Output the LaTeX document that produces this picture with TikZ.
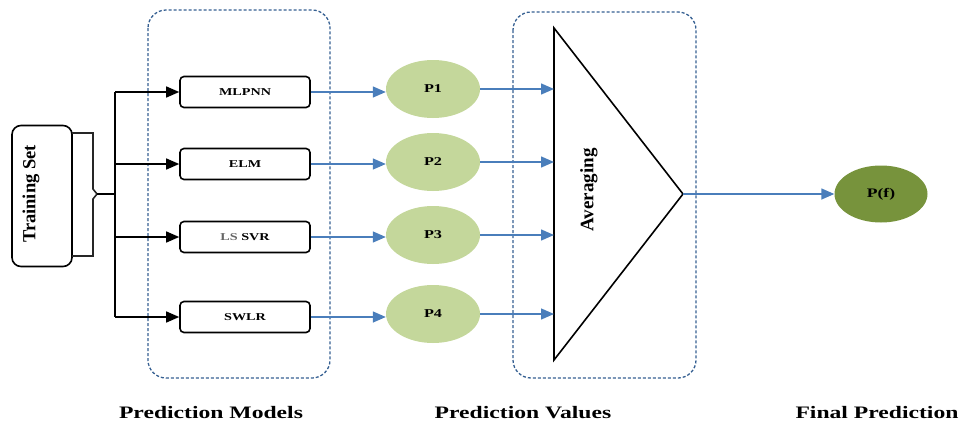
\documentclass[tikz,border=0pt]{standalone}
\usepackage{fontspec}
\setmainfont{Liberation Serif}
\newfontfamily\widefont[FakeStretch=1.35]{Liberation Serif}
\usetikzlibrary{arrows.meta,shapes.geometric}
\definecolor{lineblue}{RGB}{74,126,187}
\definecolor{boxblue}{RGB}{54,96,146}
\definecolor{palegreen}{RGB}{196,215,155}
\definecolor{olive}{RGB}{119,147,60}
\tikzset{
  model/.style={draw, line width=1.6pt, rounded corners=4pt, minimum width=130pt,
    minimum height=31pt, inner sep=0pt, font=\widefont\bfseries\fontsize{10.5}{12}\selectfont},
  pval/.style={ellipse, fill=palegreen, minimum width=94pt, minimum height=58pt,
    inner sep=0pt, font=\widefont\bfseries\fontsize{12}{14}\selectfont},
  group/.style={draw=boxblue, dash pattern=on 3pt off 2pt, line width=1.3pt, rounded corners=18pt},
  blackarrow/.style={line width=1.4pt, -{Triangle[length=13pt,width=11pt]}},
  bluearrow/.style={draw=lineblue, line width=1.4pt, -{Triangle[length=13pt,width=11pt]}, color=lineblue},
  caption/.style={font=\widefont\bfseries\fontsize{17.5}{20}\selectfont}
}
\begin{document}
\begin{tikzpicture}[x=1pt,y=-1pt]
\useasboundingbox (0,0) rectangle (962,426);

% dashed group frames
\draw[group] (148,10) rectangle (330,378);
\draw[group] (513,12) rectangle (696,378);

% training set
\node[draw, line width=1.6pt, rounded corners=9pt, minimum width=60pt, minimum height=141pt,
  inner sep=0pt] (train) at (42,196) {};
\node[rotate=90, font=\bfseries\fontsize{18.5}{20}\selectfont] (traintxt) at (31,194) {Training Set};

% brace from the training set to the fan-out bus
\draw[line width=1.6pt, black!85] (72,133) -- (93,133) -- (93,189) -- (97,194) -- (93,199) -- (93,256) -- (72,256);
\coordinate (bt) at (115,92);
\coordinate (bb) at (115,317);
\coordinate (bm) at (115,194);
\draw[line width=1.4pt] (97,194) -- (bm);
\draw[line width=1.4pt] (bt) -- (bb);

% prediction models
\node[model] (m1) at (245,92) {MLPNN};
\node[model] (m2) at (245,164) {ELM};
\node[model] (m3) at (245,237) {{\color{black!60}LS} SVR};
\node[model] (m4) at (245,317) {SWLR};

\foreach \m in {m1,m2,m3,m4}
  \draw[blackarrow] (bt |- \m.west) -- (\m.west);

% prediction values
\node[pval] (p1) at (433,89) {P1};
\node[pval] (p2) at (433,162) {P2};
\node[pval] (p3) at (433,235) {P3};
\node[pval] (p4) at (433,314) {P4};

\draw[bluearrow] (m1.east) -- (p1.west |- m1.east);
\draw[bluearrow] (m2.east) -- (p2.west |- m2.east);
\draw[bluearrow] (m3.east) -- (p3.west |- m3.east);
\draw[bluearrow] (m4.east) -- (p4.west |- m4.east);

% averaging triangle
\coordinate (tt) at (554,28);
\coordinate (tb) at (554,360);
\coordinate (tip) at (683,194);
\draw[line width=1.6pt, line join=miter] (tt) -- (tip) -- (tb) -- cycle;
\node[rotate=90, font=\bfseries\fontsize{19}{20}\selectfont] (avg) at (589,190) {Averaging};

\draw[bluearrow] (p1.east) -- (tt |- p1.east);
\draw[bluearrow] (p2.east) -- (tt |- p2.east);
\draw[bluearrow] (p3.east) -- (tt |- p3.east);
\draw[bluearrow] (p4.east) -- (tt |- p4.east);

% final prediction
\node[ellipse, fill=olive, minimum width=93pt, minimum height=57pt, inner sep=0pt,
  font=\widefont\bfseries\fontsize{13}{15}\selectfont] (pf) at (881,194) {P(f)};
\draw[bluearrow] (tip) -- (pf.west);

% captions
\node[caption] (c1) at (211,413) {Prediction Models};
\node[caption] (c2) at (523,413) {Prediction Values};
\node[caption] (c3) at (877,413) {Final Prediction};
\end{tikzpicture}
\end{document}
